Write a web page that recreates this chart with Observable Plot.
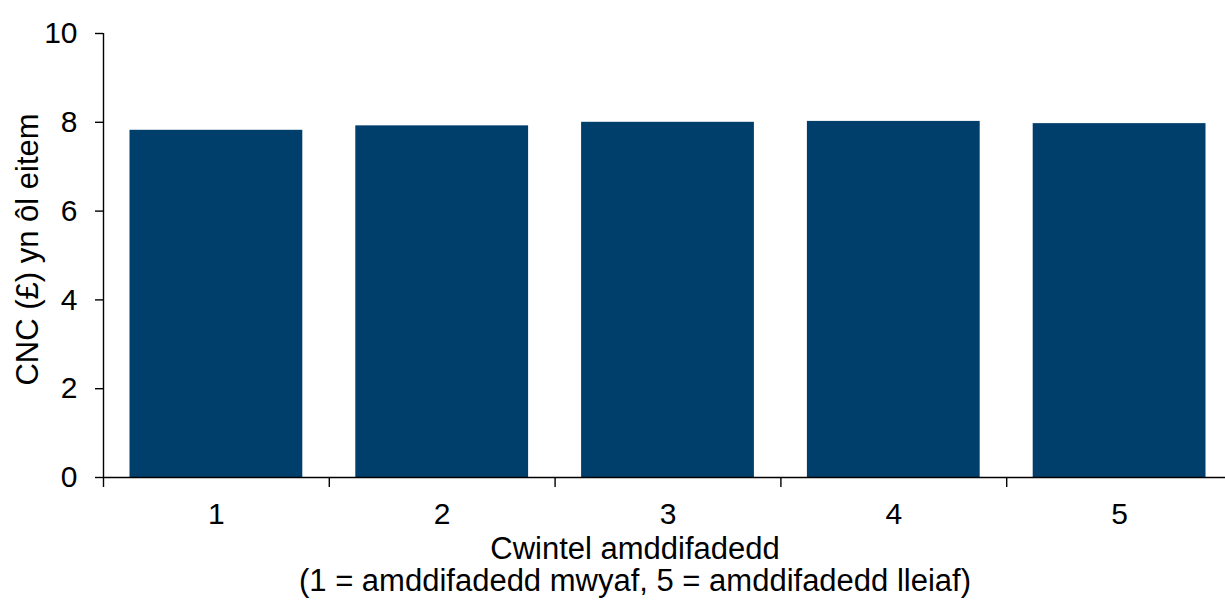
<!DOCTYPE html>
<html>
<head>
<meta charset="utf-8">
<script src="https://cdn.jsdelivr.net/npm/d3@7"></script>
<script src="https://cdn.jsdelivr.net/npm/@observablehq/plot@0.6"></script>
<style>
  html, body { margin: 0; padding: 0; background: #fff; overflow: hidden; }
  svg { display: block; }
</style>
</head>
<body>
<div id="chart"></div>
<script>
const quintiles = [1, 2, 3, 4, 5];
const values = [7.82, 7.92, 8.00, 8.02, 7.97];
const yTicks = [0, 2, 4, 6, 8, 10];
const boundaryTicks = [0.5, 1.5, 2.5, 3.5, 4.5, 5.5];
const yLabel = "CNC (£) yn ôl eitem";
const xLabel = "Cwintel amddifadedd\n(1 = amddifadedd mwyaf, 5 = amddifadedd lleiaf)";

const data = quintiles.map((q, i) => ({q, v: values[i]}));
const barColor = "#003e6b";
const font = "Liberation Sans, Arial, sans-serif";

const chart = Plot.plot({
  width: 1225,
  height: 601,
  marginTop: 33,
  marginBottom: 124,
  marginLeft: 103,
  marginRight: -7,
  style: {fontFamily: font, fontSize: "30px", color: "#000", background: "#fff"},
  x: {domain: [0.5, 5.5]},
  y: {domain: [0, 10]},
  marks: [
    Plot.rectY(data, {
      x1: d => d.q - 0.5, x2: d => d.q + 0.5, y: "v",
      fill: barColor, insetLeft: 26.5, insetRight: 26.5
    }),
    Plot.axisY({
      ticks: yTicks, tickSize: 8, tickPadding: 18, fontSize: 30,
      stroke: "#000", strokeWidth: 1.4,
      label: null
    }),
    Plot.text([yLabel], {
      text: d => d, frameAnchor: "left", rotate: -90,
      textAnchor: "middle", lineAnchor: "middle",
      dx: -75, dy: -6, fontSize: 31, fill: "#000"
    }),
    Plot.axisX({
      ticks: boundaryTicks, tickSize: 10, tickFormat: () => "",
      stroke: "#000", strokeWidth: 1.4, label: null
    }),
    Plot.axisX({
      ticks: quintiles, tickSize: 0, tickPadding: 25, fontSize: 30,
      tickFormat: d => String(d), label: null
    }),
    Plot.ruleX([0.5], {y1: 0, y2: 10, stroke: "#000", strokeWidth: 1.4}),
    Plot.ruleY([0], {stroke: "#000", strokeWidth: 1.4}),
    Plot.text([xLabel], {
      text: d => d, frameAnchor: "bottom", lineAnchor: "top",
      dy: 58, dx: -33, fontSize: 31, lineHeight: 1.05, fill: "#000"
    })
  ]
});
document.getElementById("chart").appendChild(chart);
</script>
</body>
</html>
